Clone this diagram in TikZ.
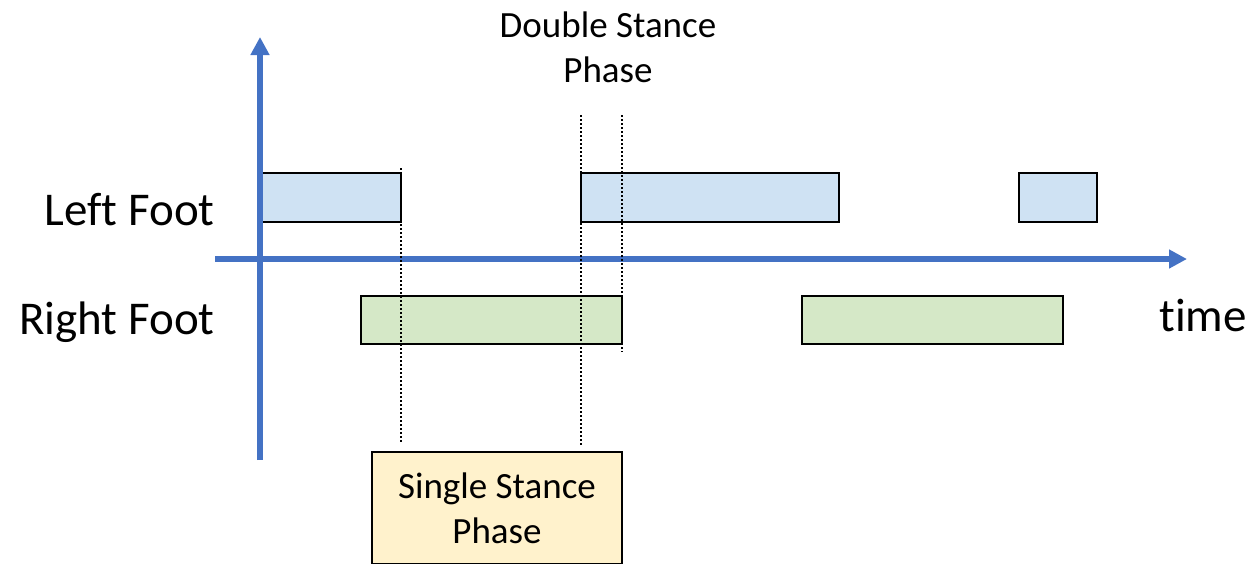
\documentclass[tikz,border=0pt]{standalone}
\usepackage{fontspec}
\setmainfont[Ligatures=CommonOff]{Carlito}
\usetikzlibrary{arrows.meta}
\definecolor{axisblue}{HTML}{4472C4}
\definecolor{leftfill}{HTML}{CFE2F3}
\definecolor{rightfill}{HTML}{D5E8C7}
\definecolor{phasefill}{HTML}{FFF2CC}
\tikzset{
  bar/.style={draw=black, line width=1pt, inner sep=0pt, outer sep=0pt, anchor=north west},
  leftbar/.style={bar, fill=leftfill, minimum height=24.5pt},
  rightbar/.style={bar, fill=rightfill, minimum height=24pt},
  phasebox/.style={bar, fill=phasefill},
  axisline/.style={draw=axisblue, line width=2.6pt, -{Triangle[length=9pt,width=9pt]}},
  marker/.style={draw=black, line width=1.1pt, dash pattern=on 1pt off 1pt},
  biglabel/.style={font=\fontsize{23.5}{28}\selectfont, inner sep=0pt},
  smalllabel/.style={font=\fontsize{18.5}{22.5}\selectfont, align=center, inner sep=0pt},
}
\begin{document}
\begin{tikzpicture}[x=0.5pt, y=-0.5pt]
  \useasboundingbox (0,0) rectangle (1253,563);

  % stance bars of the left foot
  \node[leftbar, minimum width=70.5pt] (l1) at (260,173) {};
  \node[leftbar, minimum width=129pt] (l2) at (581,173) {};
  \node[leftbar, minimum width=39pt] (l3) at (1019,173) {};

  % stance bars of the right foot
  \node[rightbar, minimum width=130.5pt] (r1) at (361,296) {};
  \node[rightbar, minimum width=130.5pt] (r2) at (802,296) {};

  % axes
  \coordinate (ybottom) at (260,460);
  \coordinate (ytop) at (260,37);
  \coordinate (xleft) at (215,259);
  \coordinate (xright) at (1187,259);
  \draw[axisline] (ybottom) -- (ytop);
  \draw[axisline] (xleft) -- (xright);

  % phase boundaries
  \coordinate (a1) at (401,168);  \coordinate (a2) at (401,444);
  \coordinate (b1) at (581,115);  \coordinate (b2) at (581,445);
  \coordinate (c1) at (622,115);  \coordinate (c2) at (622,352);
  \draw[marker] (a1) -- (a2);
  \draw[marker] (b1) -- (b2);
  \draw[marker] (c1) -- (c2);

  % single stance label box
  \node[phasebox, minimum width=125pt, minimum height=56pt] (single) at (372,452) {};
  \node[smalllabel] (singletext) at (single.center) {Single Stance\\Phase};

  % labels
  \node[smalllabel] (double) at (608,47) {Double Stance\\Phase};
  \node[biglabel, anchor=east] (leftlabel) at (215,210) {Left Foot};
  \node[biglabel, anchor=east] (rightlabel) at (215,322) {Right Foot};
  \node[biglabel, anchor=west] (timelabel) at (1159,315) {time};
\end{tikzpicture}
\end{document}
